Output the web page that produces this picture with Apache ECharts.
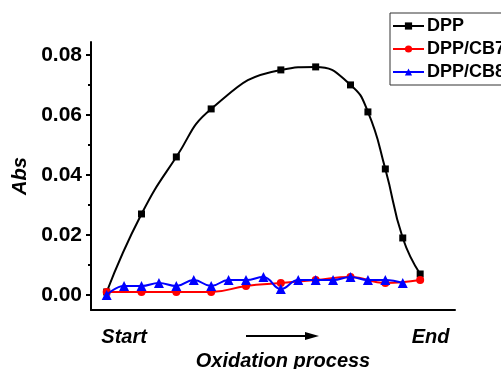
<!DOCTYPE html>
<html>
<head>
<meta charset="utf-8">
<script src="https://cdn.jsdelivr.net/npm/echarts@6/dist/echarts.min.js"></script>
<style>
  html, body { margin: 0; padding: 0; background: #fff; }
  #chart { width: 501px; height: 369px; }
</style>
</head>
<body>
<div id="chart"></div>
<script>
// oxidation step positions (arbitrary units along the process)
const dppX = [0, 2, 4, 6, 10, 12, 14, 15, 16, 17, 18];
const dppY = [0.001, 0.027, 0.046, 0.062, 0.075, 0.076, 0.070, 0.061, 0.042, 0.019, 0.007];

const cb7X = [0, 2, 4, 6, 8, 10, 12, 14, 16, 18];
const cb7Y = [0.001, 0.001, 0.001, 0.001, 0.003, 0.004, 0.005, 0.006, 0.004, 0.005];

const cb8X = [0, 1, 2, 3, 4, 5, 6, 7, 8, 9, 10, 11, 12, 13, 14, 15, 16, 17];
const cb8Y = [0.0, 0.003, 0.003, 0.004, 0.003, 0.005, 0.003, 0.005, 0.005, 0.006, 0.002, 0.005, 0.005, 0.005, 0.006, 0.005, 0.005, 0.004];

const yTicks = [0, 0.02, 0.04, 0.06, 0.08];
const yMinorTicks = [0.01, 0.03, 0.05, 0.07];

const FONT = "'Liberation Sans', Arial, sans-serif";

function pairs(xs, ys) {
  return xs.map((x, i) => [x, ys[i]]);
}

const chart = echarts.init(document.getElementById("chart"));

const yBase = {
  type: "value",
  position: "left",
  min: -0.005,
  max: 0.0843,
  splitLine: { show: false },
};

const option = {
  animation: false,
  backgroundColor: "#fff",
  grid: { left: 91, right: 46, top: 42, bottom: 59, outerBoundsMode: "none" },
  legend: {
    orient: "vertical",
    left: 390,
    top: 13,
    padding: [4, 40, 4, 2],
    itemWidth: 31,
    itemHeight: 9,
    itemGap: 5,
    borderColor: "#333",
    borderWidth: 1,
    textStyle: { fontFamily: FONT, fontWeight: "bold", fontSize: 18, color: "#000", padding: [0, 0, 0, -2] },
    data: ["DPP", "DPP/CB7", "DPP/CB8"],
  },
  xAxis: {
    type: "value",
    min: -0.9,
    max: 20,
    name: "Oxidation process",
    nameLocation: "middle",
    nameGap: 30,
    nameTextStyle: {
      fontFamily: FONT, fontWeight: "bold", fontStyle: "italic", fontSize: 20, color: "#000",
      padding: [0, 0, 0, 20],
    },
    axisLine: { onZero: false, lineStyle: { color: "#000", width: 2 } },
    axisTick: { show: false },
    splitLine: { show: false },
    axisLabel: {
      customValues: [1, 18.6],
      formatter: (v) => (v < 10 ? "Start" : "End"),
      margin: 17,
      fontFamily: FONT, fontWeight: "bold", fontStyle: "italic", fontSize: 20, color: "#000",
    },
  },
  yAxis: [
    Object.assign({}, yBase, {
      name: "Abs",
      nameLocation: "middle",
      nameGap: 60,
      nameRotate: 90,
      nameTextStyle: { fontFamily: FONT, fontWeight: "bold", fontStyle: "italic", fontSize: 20, color: "#000" },
      axisLine: { show: true, onZero: false, lineStyle: { color: "#000", width: 2 } },
      axisTick: { show: true, customValues: yTicks, length: 5, lineStyle: { color: "#000", width: 2 } },
      axisLabel: {
        customValues: yTicks,
        formatter: (v) => v.toFixed(2),
        margin: 9,
        fontFamily: FONT, fontWeight: "bold", fontSize: 21, color: "#000",
      },
    }),
    Object.assign({}, yBase, {
      axisLine: { show: false, onZero: false },
      axisTick: { show: true, customValues: yMinorTicks, length: 3, lineStyle: { color: "#000", width: 2 } },
      axisLabel: { show: false },
    }),
  ],
  series: [
    {
      name: "DPP",
      type: "line",
      smooth: 0.5,
      data: pairs(dppX, dppY),
      symbol: "rect",
      symbolSize: 7,
      itemStyle: { color: "#000" },
      lineStyle: { color: "#000", width: 2 },
      z: 2,
    },
    {
      name: "DPP/CB7",
      type: "line",
      smooth: 0.45,
      data: pairs(cb7X, cb7Y),
      symbol: "circle",
      symbolSize: 8,
      itemStyle: { color: "#ff0000" },
      lineStyle: { color: "#ff0000", width: 2 },
      z: 3,
    },
    {
      name: "DPP/CB8",
      type: "line",
      smooth: 0.45,
      data: pairs(cb8X, cb8Y),
      symbol: "triangle",
      symbolSize: 10,
      itemStyle: { color: "#0000ff" },
      lineStyle: { color: "#0000ff", width: 2 },
      z: 4,
    },
  ],
  graphic: [
    {
      type: "line",
      shape: { x1: 246, y1: 336, x2: 308, y2: 336 },
      style: { stroke: "#000", lineWidth: 2 },
    },
    {
      type: "polygon",
      shape: { points: [[305, 332], [319, 336], [305, 340]] },
      style: { fill: "#000" },
    },
  ],
};

chart.setOption(option);
</script>
</body>
</html>
